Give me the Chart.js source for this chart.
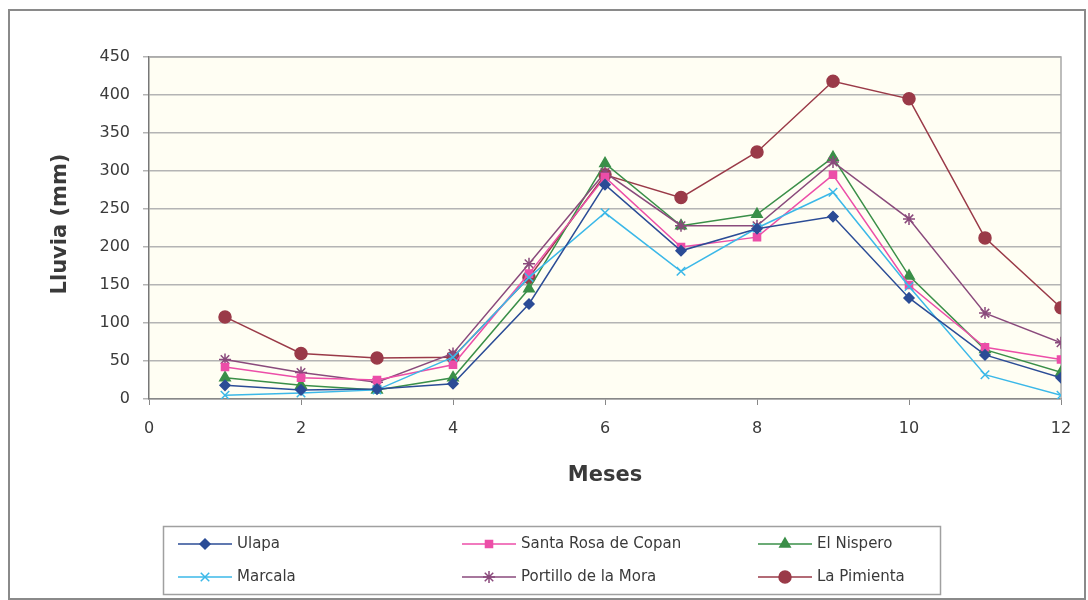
<!DOCTYPE html>
<html lang="es">
<head>
  <meta charset="UTF-8" />
  <title>Lluvia mensual</title>
  <script src="https://cdn.jsdelivr.net/npm/chart.js"></script>
  <style>
    * { box-sizing: border-box; }
    body { margin: 0; background: #fff; }
    #wrap { position: absolute; left: 0; top: 0; width: 1088px; height: 600px; }
  </style>
</head>
<body>
  <div id="wrap"><canvas id="chart" width="1088" height="600"></canvas></div>

  <script>
    const months = [1, 2, 3, 4, 5, 6, 7, 8, 9, 10, 11, 12];
    const yTicks = [0, 50, 100, 150, 200, 250, 300, 350, 400, 450];

    const ulapa      = [18, 12, 13, 20, 125, 282, 195, 224, 240, 133, 58, 28];
    const marcala    = [5, 8, 12, 55, 160, 245, 168, 225, 272, 148, 32, 5];
    const santaRosa  = [42, 28, 25, 45, 165, 292, 200, 213, 295, 150, 68, 52];
    const elNispero  = [28, 18, 12, 28, 145, 310, 228, 243, 318, 162, 65, 35];
    const portillo   = [52, 35, 22, 60, 178, 298, 228, 228, 312, 237, 113, 74];
    const laPimienta = [108, 60, 54, 55, 160, 295, 265, 325, 418, 395, 212, 120];

    const pts = vals => months.map((m, i) => ({ x: m, y: vals[i] }));

    function series(label, vals, color, style, radius) {
      return {
        label, data: pts(vals),
        borderColor: color, backgroundColor: color,
        pointBorderColor: color, pointBackgroundColor: color,
        pointStyle: style, pointRadius: radius, pointBorderWidth: 1.5,
        borderWidth: 1.5, tension: 0
      };
    }

    const datasets = [
      series('Ulapa', ulapa, '#2b4c96', 'rectRot', 5),
      series('Marcala', marcala, '#3bb8e8', 'crossRot', 6),
      series('Santa Rosa de Copan', santaRosa, '#ec4ea8', 'rect', 5),
      series('Portillo de la Mora', portillo, '#8a4a7c', 'star', 6),
      series('El Nispero', elNispero, '#3a8f48', 'triangle', 6),
      series('La Pimienta', laPimienta, '#9a3a48', 'circle', 6)
    ];

    // legend grid as in the picture: [dataset index, column x, row y]
    const legendCells = [[0, 178, 544], [2, 462, 544], [4, 758, 544],
                         [1, 178, 577], [3, 462, 577], [5, 758, 577]];

    const FONT = '"DejaVu Sans", "Liberation Sans", Arial, sans-serif';

    const frame = {
      id: 'frame',
      beforeDraw(chart) {
        const { ctx, chartArea: a } = chart;
        ctx.save();
        ctx.fillStyle = '#fffef3';
        ctx.fillRect(a.left, a.top, a.right - a.left, a.bottom - a.top);
        ctx.strokeStyle = '#8a8a8a';
        ctx.lineWidth = 2;
        ctx.strokeRect(9, 10, 1076, 589);
        ctx.restore();
      },
      beforeDatasetsDraw(chart) {
        const { ctx, chartArea: a } = chart;
        ctx.save();
        ctx.strokeStyle = '#a8a8a8';
        ctx.lineWidth = 1.5;
        ctx.beginPath();
        ctx.moveTo(a.left, a.top);
        ctx.lineTo(a.right, a.top);
        ctx.lineTo(a.right, a.bottom);
        ctx.stroke();
        ctx.restore();
      },
      afterDraw(chart) {
        const ctx = chart.ctx;
        ctx.save();
        // axis titles
        ctx.fillStyle = '#3a3a3a';
        ctx.font = 'bold 21px ' + FONT;
        ctx.textAlign = 'center';
        ctx.textBaseline = 'middle';
        ctx.fillText('Meses', 605, 476);
        ctx.translate(61, 224);
        ctx.rotate(-Math.PI / 2);
        ctx.fillText('Lluvia (mm)', 0, 0);
        ctx.setTransform(1, 0, 0, 1, 0, 0);

        // legend
        ctx.strokeStyle = '#a0a0a0';
        ctx.lineWidth = 1.5;
        ctx.strokeRect(163.5, 526.5, 777, 68);
        ctx.font = '15px ' + FONT;
        ctx.textAlign = 'left';
        legendCells.forEach(([i, x, y]) => {
          const ds = chart.data.datasets[i];
          ctx.strokeStyle = ds.borderColor;
          ctx.lineWidth = 1.5;
          ctx.beginPath();
          ctx.moveTo(x, y);
          ctx.lineTo(x + 54, y);
          ctx.stroke();
          ctx.fillStyle = ds.backgroundColor;
          Chart.helpers.drawPoint(ctx, {
            pointStyle: ds.pointStyle, radius: ds.pointRadius, borderWidth: 1.5
          }, x + 27, y);
          ctx.fillStyle = '#3a3a3a';
          ctx.fillText(ds.label, x + 59, y);
        });
        ctx.restore();
      }
    };

    const tickFont = { family: FONT, size: 16 };

    new Chart(document.getElementById('chart'), {
      type: 'line',
      data: { datasets },
      plugins: [frame],
      options: {
        responsive: false,
        animation: false,
        layout: { padding: { left: 0, top: 57, right: 27, bottom: 0 } },
        plugins: { legend: { display: false }, tooltip: { enabled: false } },
        scales: {
          x: {
            type: 'linear', min: 0, max: 12,
            ticks: { stepSize: 2, color: '#3a3a3a', font: tickFont, padding: 14 },
            grid: { display: true, drawOnChartArea: false, tickLength: 6, color: '#888' },
            border: { color: '#888', width: 1.5 },
            afterFit(s) { s.height = 201; }
          },
          y: {
            min: 0, max: 450,
            afterBuildTicks(s) { s.ticks = yTicks.map(v => ({ value: v })); },
            ticks: { color: '#3a3a3a', font: tickFont, padding: 13 },
            grid: { color: '#b4b4b4', lineWidth: 1.5, tickLength: 6, drawTicks: true },
            border: { color: '#777', width: 1.5 },
            afterFit(s) { s.width = 149; }
          }
        }
      }
    });
  </script>
</body>
</html>
